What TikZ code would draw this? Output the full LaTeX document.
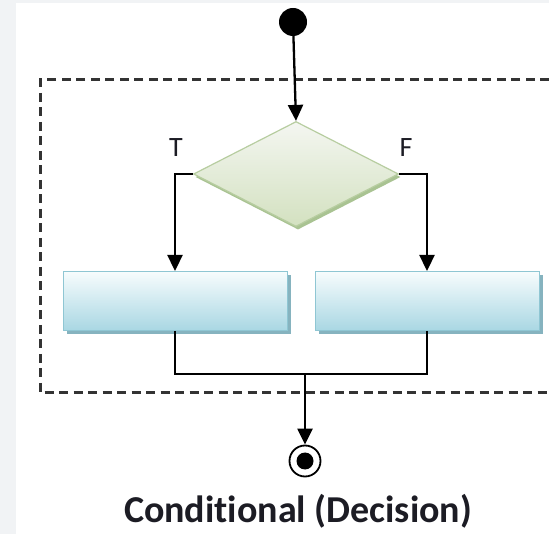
\documentclass[tikz,border=0pt]{standalone}
\usepackage{fontspec}
\setmainfont{Carlito}[Ligatures=NoCommon]
\usetikzlibrary{arrows.meta,shapes.geometric}
\definecolor{bggray}{HTML}{F1F3F5}
\definecolor{diaTop}{HTML}{F4F6F1}
\definecolor{diaBot}{HTML}{D3E1C0}
\definecolor{diaLine}{HTML}{B7CDA0}
\definecolor{diaShadow}{HTML}{A9C392}
\definecolor{boxTop}{HTML}{F7FCFD}
\definecolor{boxBot}{HTML}{A9D7E3}
\definecolor{boxLine}{HTML}{8FC6D3}
\definecolor{boxShadow}{HTML}{86B3BF}
\definecolor{ink}{HTML}{1C1C24}
\tikzset{
  x=1pt, y=-1pt,
  conn/.style={draw=black, line width=2.3pt},
  arr/.style={conn, -{Triangle[length=16pt,width=15pt]}},
  actbox/.style={rectangle, minimum width=224pt, minimum height=59pt, inner sep=0pt,
    top color=boxTop, bottom color=boxBot, draw=boxLine, line width=1pt},
  boxshade/.style={rectangle, minimum width=224pt, minimum height=59pt, inner sep=0pt,
    fill=boxShadow, draw=none},
  decide/.style={diamond, minimum width=205pt, minimum height=105pt, inner sep=0pt,
    top color=diaTop, bottom color=diaBot, draw=diaLine, line width=1.2pt},
  decshade/.style={diamond, minimum width=205pt, minimum height=105pt, inner sep=0pt,
    fill=diaShadow, draw=none},
  lbl/.style={font=\fontsize{28}{30}\selectfont, text=ink},
  frame/.style={draw=black!80, line width=3pt, dash pattern=on 9pt off 5.5pt},
}
\begin{document}
\begin{tikzpicture}
\useasboundingbox (0,0) rectangle (549,534);
\fill[bggray] (0,0) rectangle (549,534);
\fill[white] (16,3) rectangle (549,534);
% dashed frame
\draw[frame] (549,80) -- (40,80) -- (40,393) -- (549,393);
% shadows
\node[decshade] at (298,177) {};
\node[boxshade] at (179,305) {};
\node[boxshade] at (431,305) {};
% nodes
\node[circle, fill=black, minimum size=28pt, inner sep=0pt] (start) at (293,22) {};
\node[decide] (dia) at (296,174) {};
\node[actbox] (boxL) at (175,301) {};
\node[actbox] (boxR) at (427,301) {};
\node[circle, draw=black, line width=1.8pt, minimum size=31pt, inner sep=0pt] (end) at (305,461) {};
\fill[black] (end.center) circle[radius=8.5pt];
\node[lbl] (tl) at (176,148) {T};
\node[lbl] (fl) at (406,148) {F};
\node[font=\bfseries\fontsize{38}{40}\selectfont, text=ink] (title) at (298,511) {Conditional (Decision)};
\coordinate (join) at (305,374);
% connectors
\draw[arr] (start) -- (dia.north);
\draw[arr] (dia.west) -| (boxL.north);
\draw[arr] (dia.east) -| (boxR.north);
\draw[conn] (boxL.south) |- (join);
\draw[conn] (boxR.south) |- (join);
\draw[arr] (join) -- (end.north);
\end{tikzpicture}
\end{document}
